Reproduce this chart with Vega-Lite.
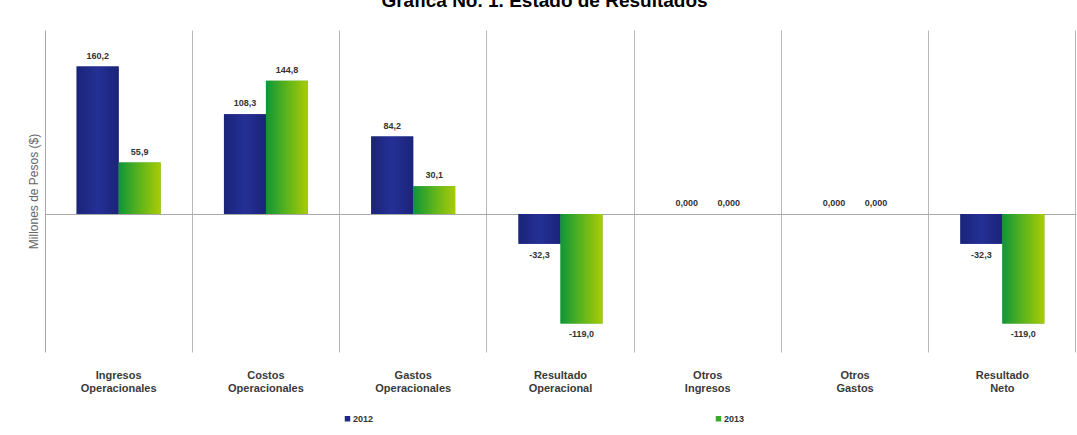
{
  "$schema": "https://vega.github.io/schema/vega-lite/v6.json",
  "width": 1031,
  "height": 322,
  "autosize": {"type": "none"},
  "padding": {"left": 45, "top": 30, "right": 1, "bottom": 83},
  "background": "white",
  "title": {
    "text": "Gráfica No. 1. Estado de Resultados",
    "font": "Liberation Sans",
    "fontSize": 19,
    "fontWeight": "bold",
    "color": "#000000",
    "anchor": "middle",
    "dx": -16,
    "dy": -19,
    "offset": 0
  },
  "config": {
    "view": {"stroke": null},
    "font": "Liberation Sans"
  },
  "data": {
    "values": [
      {"cat": "Ingresos|Operacionales", "year": "2012", "v": 160.2, "label": "160,2"},
      {"cat": "Ingresos|Operacionales", "year": "2013", "v": 55.9, "label": "55,9"},
      {"cat": "Costos|Operacionales", "year": "2012", "v": 108.3, "label": "108,3"},
      {"cat": "Costos|Operacionales", "year": "2013", "v": 144.8, "label": "144,8"},
      {"cat": "Gastos|Operacionales", "year": "2012", "v": 84.2, "label": "84,2"},
      {"cat": "Gastos|Operacionales", "year": "2013", "v": 30.1, "label": "30,1"},
      {"cat": "Resultado|Operacional", "year": "2012", "v": -32.3, "label": "-32,3"},
      {"cat": "Resultado|Operacional", "year": "2013", "v": -119.0, "label": "-119,0"},
      {"cat": "Otros|Ingresos", "year": "2012", "v": 0, "label": "0,000"},
      {"cat": "Otros|Ingresos", "year": "2013", "v": 0, "label": "0,000"},
      {"cat": "Otros|Gastos", "year": "2012", "v": 0, "label": "0,000"},
      {"cat": "Otros|Gastos", "year": "2013", "v": 0, "label": "0,000"},
      {"cat": "Resultado|Neto", "year": "2012", "v": -32.3, "label": "-32,3"},
      {"cat": "Resultado|Neto", "year": "2013", "v": -119.0, "label": "-119,0"}
    ]
  },
  "resolve": {"axis": {"x": "independent"}},
  "encoding": {
    "x": {
      "field": "cat",
      "type": "nominal",
      "sort": null,
      "scale": {"paddingInner": 0.43, "paddingOuter": 0.215},
      "axis": null
    },
    "xOffset": {"field": "year", "type": "nominal", "scale": {"paddingInner": 0, "paddingOuter": 0}},
    "y": {
      "field": "v",
      "type": "quantitative",
      "scale": {"domain": [-150, 200], "nice": false, "zero": false},
      "axis": {
        "title": "Millones de Pesos ($)",
        "titleFont": "Liberation Sans",
        "titleFontSize": 12,
        "titleFontWeight": "normal",
        "titleColor": "#666666",
        "titlePadding": 5,
        "labels": false,
        "ticks": false,
        "domain": true,
        "domainColor": "#a8a8a8",
        "values": [0],
        "grid": true,
        "gridColor": "#a8a8a8"
      }
    }
  },
  "layer": [
    {
      "mark": {"type": "bar"},
      "encoding": {
        "x": {
          "field": "cat",
          "type": "nominal",
          "sort": null,
          "axis": {
            "orient": "bottom",
            "title": null,
            "labelExpr": "split(datum.label, '|')",
            "labelAngle": 0,
            "labelFont": "Liberation Sans",
            "labelFontSize": 11,
            "labelFontWeight": "bold",
            "labelColor": "#3a3a3a",
            "labelLineHeight": 13,
            "labelPadding": 17,
            "labelBaseline": "top",
            "domain": false,
            "ticks": false,
            "grid": false
          }
        },
        "color": {
          "field": "year",
          "type": "nominal",
          "scale": {"domain": ["2012", "2013"], "range": ["#1e2888", "#3aaa2a"]},
          "legend": {
            "title": null,
            "orient": "none",
            "legendX": 298,
            "legendY": 384,
            "direction": "horizontal",
            "columns": 2,
            "columnPadding": 340,
            "symbolType": "square",
            "symbolSize": 30,
            "symbolOffset": 0,
            "labelOffset": 1,
            "labelFont": "Liberation Sans",
            "labelFontSize": 9,
            "labelFontWeight": "bold",
            "labelColor": "#333333"
          }
        }
      }
    },
    {
      "transform": [{"filter": "datum.year == '2012'"}],
      "mark": {
        "type": "bar",
        "fill": {
          "gradient": "linear",
          "x1": 0, "x2": 1, "y1": 0, "y2": 0,
          "stops": [
            {"offset": 0, "color": "#1b2478"},
            {"offset": 0.5, "color": "#243096"},
            {"offset": 1, "color": "#1b2478"}
          ]
        }
      },
      "encoding": {
        "x": {
          "field": "cat",
          "type": "nominal",
          "sort": null,
          "axis": {
            "orient": "top",
            "title": null,
            "labels": false,
            "domain": false,
            "ticks": false,
            "grid": true,
            "bandPosition": 1.377,
            "gridColor": "#b8b8b8",
            "gridWidth": 1
          }
        }
      }
    },
    {
      "transform": [{"filter": "datum.year == '2013'"}],
      "mark": {
        "type": "bar",
        "fill": {
          "gradient": "linear",
          "x1": 0, "x2": 1, "y1": 0, "y2": 0,
          "stops": [
            {"offset": 0, "color": "#0e9638"},
            {"offset": 0.5, "color": "#5cb41c"},
            {"offset": 1, "color": "#aacb05"}
          ]
        }
      }
    },
    {
      "transform": [{"filter": "datum.v >= 0"}],
      "mark": {"type": "text", "baseline": "bottom", "dy": -6, "font": "Liberation Sans", "fontSize": 9, "fontWeight": "bold", "color": "#333333"},
      "encoding": {"text": {"field": "label"}}
    },
    {
      "transform": [{"filter": "datum.v < 0"}],
      "mark": {"type": "text", "baseline": "top", "dy": 7, "font": "Liberation Sans", "fontSize": 9, "fontWeight": "bold", "color": "#333333"},
      "encoding": {"text": {"field": "label"}}
    }
  ]
}
